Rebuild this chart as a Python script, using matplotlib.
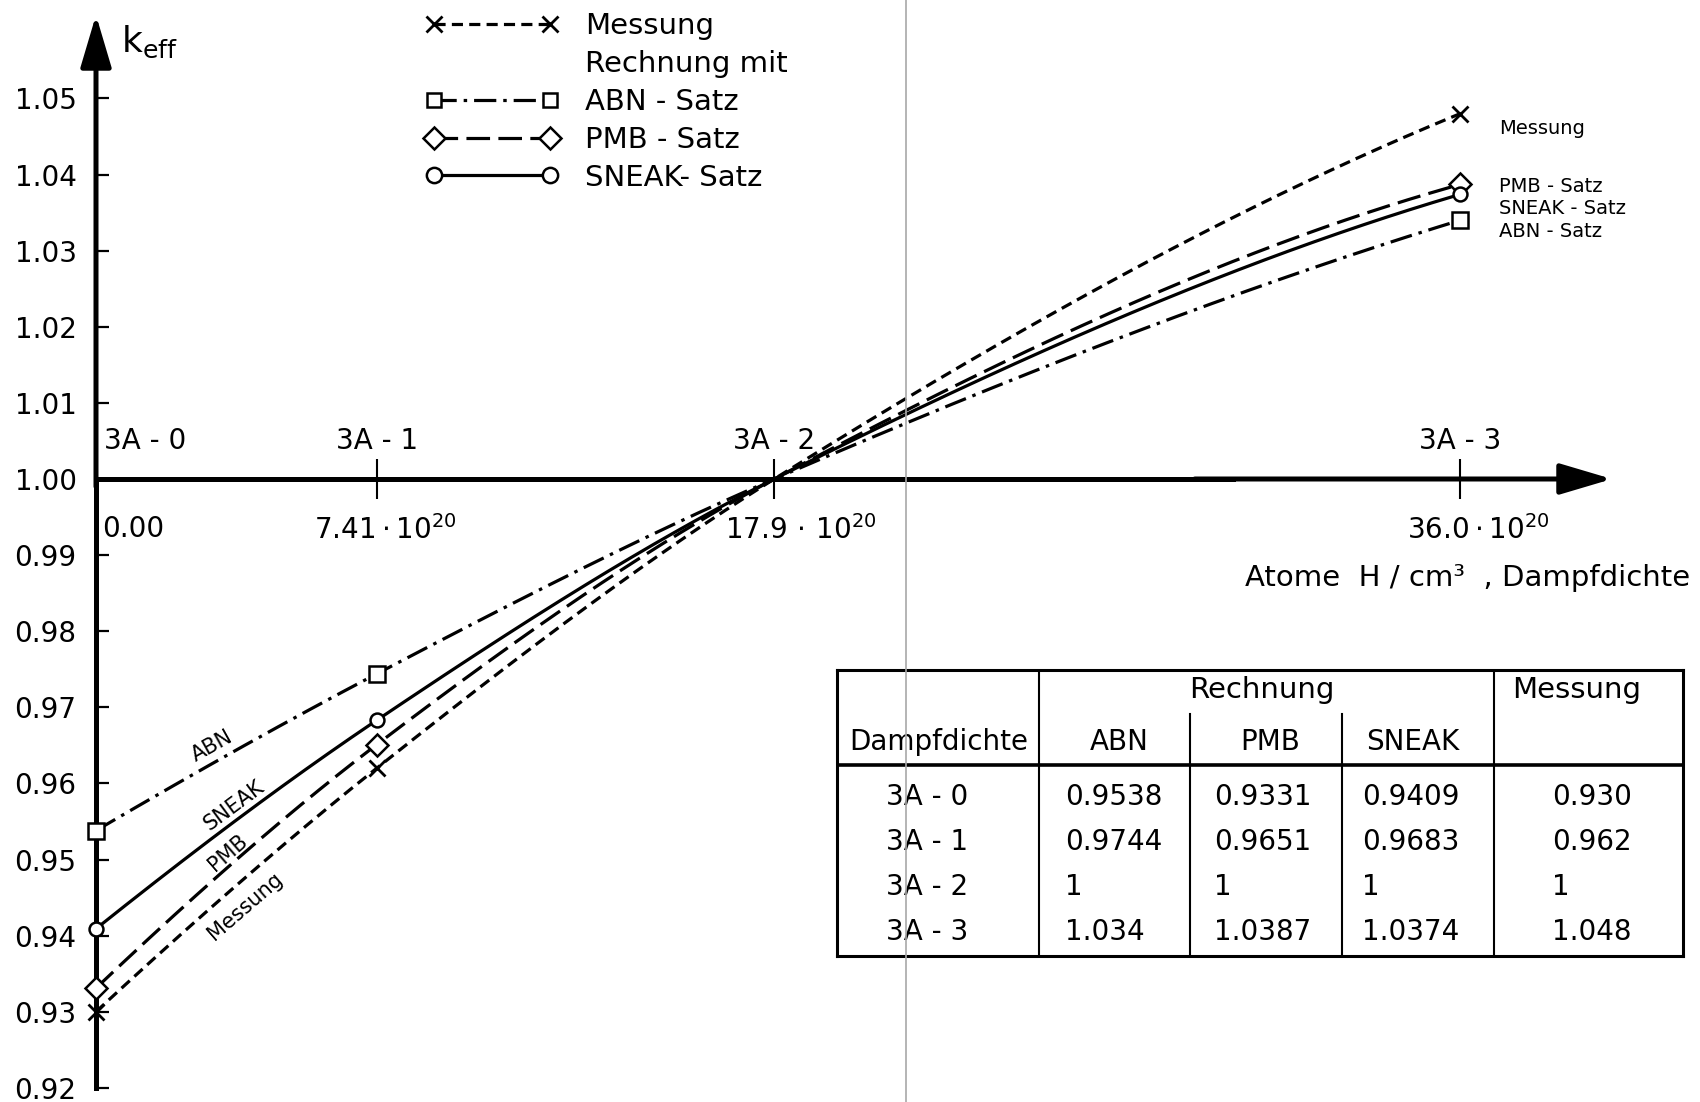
import numpy as np
import matplotlib
matplotlib.use("Agg")
import matplotlib.pyplot as plt
from matplotlib.lines import Line2D
from matplotlib.transforms import ScaledTranslation

plt.rcParams['font.family'] = ['DejaVu Sans']
plt.rcParams['mathtext.fontset'] = 'dejavusans'
plt.rcParams['lines.scale_dashes'] = False

# ---------------- data ----------------
density = [0.0, 7.41, 17.9, 36.0]                  # Atome H/cm^3 (x 1e20)
config = ["3A - 0", "3A - 1", "3A - 2", "3A - 3"]
density_labels = ["0.00", r"$\mathregular{7.41\cdot10^{20}}$",
                  r"$\mathregular{17.9\,\cdot\,10^{20}}$",
                  r"$\mathregular{36.0\cdot10^{20}}$"]
abn_txt = ["0.9538", "0.9744", "1", "1.034"]
pmb_txt = ["0.9331", "0.9651", "1", "1.0387"]
sneak_txt = ["0.9409", "0.9683", "1", "1.0374"]
mess_txt = ["0.930", "0.962", "1", "1.048"]
abn = [float(v) for v in abn_txt]
pmb = [float(v) for v in pmb_txt]
sneak = [float(v) for v in sneak_txt]
mess = [float(v) for v in mess_txt]
y_ticks = [0.92, 0.93, 0.94, 0.95, 0.96, 0.97, 0.98, 0.99,
           1.00, 1.01, 1.02, 1.03, 1.04, 1.05]


def pchip(x, y, xq):
    x = np.asarray(x, float)
    y = np.asarray(y, float)
    h = np.diff(x)
    d = np.diff(y) / h
    n = len(x)
    m = np.zeros(n)
    for k in range(1, n - 1):
        if d[k - 1] * d[k] > 0:
            w1 = 2 * h[k] + h[k - 1]
            w2 = h[k] + 2 * h[k - 1]
            m[k] = (w1 + w2) / (w1 / d[k - 1] + w2 / d[k])

    def end(h0, h1, d0, d1):
        mm = ((2 * h0 + h1) * d0 - h0 * d1) / (h0 + h1)
        if np.sign(mm) != np.sign(d0):
            mm = 0.0
        elif np.sign(d0) != np.sign(d1) and abs(mm) > abs(3 * d0):
            mm = 3 * d0
        return mm

    m[0] = end(h[0], h[1], d[0], d[1])
    m[-1] = end(h[-1], h[-2], d[-1], d[-2])
    idx = np.clip(np.searchsorted(x, xq, side='right') - 1, 0, n - 2)
    t = (xq - x[idx]) / h[idx]
    h00 = 2 * t**3 - 3 * t**2 + 1
    h10 = t**3 - 2 * t**2 + t
    h01 = -2 * t**3 + 3 * t**2
    h11 = t**3 - t**2
    return (h00 * y[idx] + h10 * h[idx] * m[idx]
            + h01 * y[idx + 1] + h11 * h[idx] * m[idx + 1])


W, H = 1700, 1102
fig = plt.figure(figsize=(W / 100, H / 100), dpi=100)
ax = fig.add_axes([0, 0, 1, 1])
X0, SX = 96.0, 37.89        # pixel of x=0, pixels per unit
Y1, SY = 479.0, 7610.0      # pixel (from top) of k=1.00, pixels per unit
ax.set_xlim(-X0 / SX, (W - X0) / SX)
ax.set_ylim(1 - (H - Y1) / SY, 1 + Y1 / SY)

# ---------------- axes (spines with arrows) ----------------
axis_lw = 3.6
ax.spines['left'].set_position(('data', 0.0))
ax.spines['bottom'].set_position(('data', 1.0))
ax.spines['left'].set_bounds(0.92, 1.0)
ax.spines['bottom'].set_bounds(0.0, 30.0)
ax.spines['left'].set_linewidth(axis_lw)
ax.spines['bottom'].set_linewidth(axis_lw)
ax.spines['top'].set_visible(False)
ax.spines['right'].set_visible(False)

y_tip = 1 + (Y1 - 15) / SY
x_tip = (1612 - X0) / SX
arrow_style = '-|>,head_length=3.2,head_width=0.95'
ax.annotate('', xy=(0, y_tip), xytext=(0, 0.999),
            arrowprops=dict(arrowstyle=arrow_style, lw=axis_lw, color='k',
                            shrinkA=0, shrinkB=0, mutation_scale=10))
ax.annotate('', xy=(x_tip, 1.0), xytext=(29.0, 1.0),
            arrowprops=dict(arrowstyle=arrow_style, lw=axis_lw, color='k',
                            shrinkA=0, shrinkB=0, mutation_scale=10))

ax.set_yticks(y_ticks, labels=[f"{v:.2f}" for v in y_ticks])
ax.tick_params(axis='y', direction='in', length=9.5, width=1.6,
               labelsize=20, pad=14, right=False)
ax.set_xticks(density, labels=density_labels)
ax.tick_params(axis='x', direction='inout', length=29, width=1.5,
               labelsize=20, pad=11.5, top=False)
xt = ax.xaxis.get_major_ticks()
xt[0].tick1line.set_visible(False)
xt[0].tick2line.set_visible(False)
bottom_shift_px = [6, 8, 26, 18]
for tk, sh in zip(xt, bottom_shift_px):
    tk.label1.set_transform(tk.label1.get_transform()
                            + ScaledTranslation(sh / 100, 0, fig.dpi_scale_trans))
xt[0].label1.set_horizontalalignment('left')

sec = ax.secondary_xaxis(1.0, transform=ax.transData)
sec.set_xticks(density, labels=config)
sec.tick_params(axis='x', length=0, labelsize=20, pad=17)
for s in sec.spines.values():
    s.set_visible(False)
st0 = sec.xaxis.get_major_ticks()[0]
st0.label2.set_transform(st0.label2.get_transform()
                         + ScaledTranslation(8 / 100, 0, fig.dpi_scale_trans))
st0.label2.set_horizontalalignment('left')

ax.set_xlabel("Atome  H / cm³  , Dampfdichte", fontsize=21,
              ha='right', va='center')
ax.xaxis.set_label_coords(1690 / W, 1 - 578 / H)
ax.set_ylabel(r'k$_{\mathregular{eff}}$', fontsize=26, rotation=0,
              ha='left', va='center')
ax.yaxis.set_label_coords(121 / W, 1 - 42 / H)

# ---------------- series ----------------
lw = 2.3
styles = {
    "Messung": dict(dashes=(8, 4.5), marker='x', ms=11, mew=2.0),
    "ABN": dict(dashes=(16, 5, 2.5, 5), marker='s', ms=11, mew=1.8),
    "PMB": dict(dashes=(17, 6), marker='D', ms=11, mew=1.8),
    "SNEAK": dict(dashes=None, marker='o', ms=10, mew=1.8),
}
data = {"Messung": mess, "ABN": abn, "PMB": pmb, "SNEAK": sneak}
xs = np.linspace(density[0], density[-1], 600)
for name, vals in data.items():
    st = styles[name]
    line, = ax.plot(xs, pchip(density, vals, xs), color='k', lw=lw, zorder=3)
    if st['dashes'] is not None:
        line.set_dashes(st['dashes'])
    ax.plot(density, vals, linestyle='none', marker=st['marker'],
            ms=st['ms'], mew=st['mew'], mfc='white', mec='k',
            markevery=[0, 1, 3], zorder=4)

# inline labels along the first segment
inline = [("ABN", abn, 3.30, 12.5), ("SNEAK", sneak, 3.90, 12.0),
          ("PMB", pmb, 3.75, 11.0), ("Messung", mess, 3.62, -13.0)]
for name, vals, xl, dist in inline:
    yl = np.interp(xl, density, vals)
    p0 = ax.transData.transform((density[0], vals[0]))
    p1 = ax.transData.transform((density[1], vals[1]))
    ang = np.arctan2(p1[1] - p0[1], p1[0] - p0[0])
    off = (-np.sin(ang) * dist, np.cos(ang) * dist)
    ax.annotate(name, (xl, yl), xytext=off, textcoords='offset points',
                rotation=np.degrees(ang), rotation_mode='anchor',
                ha='center', va='center', fontsize=15)

# end labels
end_labels = [("Messung", mess, -10.5), ("PMB - Satz", pmb, -1.5),
              ("SNEAK - Satz", sneak, -10.5), ("ABN - Satz", abn, -8)]
for text, vals, dy in end_labels:
    ax.annotate(text, (density[-1], vals[-1]), xytext=(28, dy),
                textcoords='offset points', ha='left', va='center',
                fontsize=14)

# ---------------- legend ----------------
handles = [
    Line2D([], [], color='k', lw=lw, dashes=styles["Messung"]['dashes'],
           marker='x', ms=11, mew=2.0),
    Line2D([], [], linestyle='none'),
    Line2D([], [], color='k', lw=lw, dashes=styles["ABN"]['dashes'],
           marker='s', ms=10, mew=1.8, mfc='white'),
    Line2D([], [], color='k', lw=lw, dashes=styles["PMB"]['dashes'],
           marker='D', ms=11, mew=1.8, mfc='white'),
    Line2D([], [], color='k', lw=lw, marker='o', ms=11, mew=1.8, mfc='white'),
]
labels = ["Messung", "Rechnung mit", "ABN - Satz", "PMB - Satz", "SNEAK- Satz"]
ax.legend(handles, labels, loc='upper left',
          bbox_to_anchor=(425 / W, 1 - 12 / H), bbox_transform=fig.transFigure,
          frameon=False, fontsize=21, numpoints=2, handlelength=4.6,
          handletextpad=0.9, labelspacing=0.34, borderpad=0, borderaxespad=0)

# ---------------- table ----------------
TL, TR, TT, TB = 837, 1683, 670, 956
tb = fig.add_axes([TL / W, 1 - TB / H, (TR - TL) / W, (TB - TT) / H])
tb.set_xlim(TL, TR)
tb.set_ylim(TB, TT)
tb.set_xticks([])
tb.set_yticks([])
tb.patch.set_alpha(0)
for s in tb.spines.values():
    s.set_linewidth(2.2)
tb.axhline(765, color='k', lw=2.6)
for xv in (1039, 1494):
    tb.axvline(xv, color='k', lw=1.5)
for xv in (1190, 1342):
    tb.plot([xv, xv], [714, TB], color='k', lw=1.5)
fs = 20
tb.text(1262, 690, "Rechnung", ha='center', va='center', fontsize=fs + 1)
tb.text(1577, 690, "Messung", ha='center', va='center', fontsize=fs + 1)
tb.text(939, 742, "Dampfdichte", ha='center', va='center', fontsize=fs)
tb.text(1119, 742, "ABN", ha='center', va='center', fontsize=fs)
tb.text(1270, 742, "PMB", ha='center', va='center', fontsize=fs)
tb.text(1413, 742, "SNEAK", ha='center', va='center', fontsize=fs)
row_y = [797, 842, 887, 932]
col_x = [1065, 1214, 1362, 1552]
for i, row in enumerate(config):
    tb.text(927, row_y[i], row, ha='center', va='center', fontsize=fs)
    for cx, col in zip(col_x, (abn_txt, pmb_txt, sneak_txt, mess_txt)):
        tb.text(cx, row_y[i], col[i], ha='left', va='center', fontsize=fs)

# faint vertical scan line present in the original
fig.add_artist(Line2D([906 / W, 906 / W], [0, 1], transform=fig.transFigure,
                      color='#a8a8a8', lw=1.2, zorder=10))

fig.savefig("out.png", dpi=100)
